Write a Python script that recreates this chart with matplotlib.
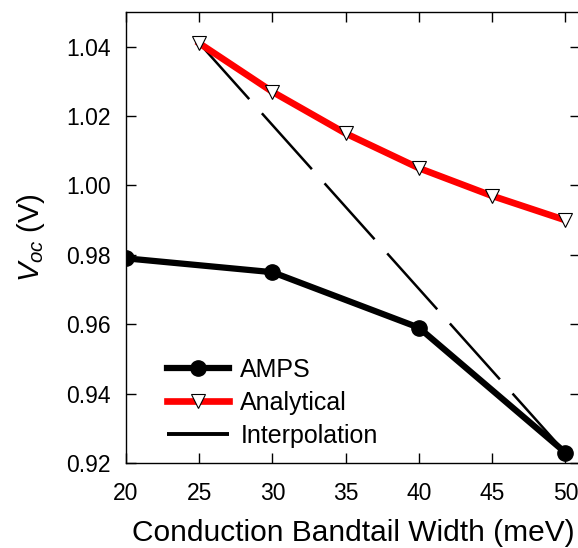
import numpy as np
import matplotlib
matplotlib.use("Agg")
import matplotlib.pyplot as plt

plt.rcParams['font.family'] = ['Liberation Sans', 'DejaVu Sans']
plt.rcParams['mathtext.fontset'] = 'custom'
plt.rcParams['mathtext.it'] = 'Liberation Sans:italic'
plt.rcParams['mathtext.rm'] = 'Liberation Sans'

# AMPS simulation
amps_w = [20, 30, 40, 50]
amps_voc = [0.979, 0.975, 0.959, 0.923]

# analytical model
ana_w = [25, 30, 35, 40, 45, 50]
ana_voc = [1.041, 1.027, 1.015, 1.005, 0.997, 0.990]

# interpolation line
int_w = [25, 50]
int_voc = [1.041, 0.923]

xticks = [20, 25, 30, 35, 40, 45, 50]
yticks = [0.92, 0.94, 0.96, 0.98, 1.00, 1.02, 1.04]

fig = plt.figure(figsize=(5.78, 5.48), dpi=100)
ax = fig.add_axes([126/578, 1-463/548, (580-126)/578, (463-12)/548])

ax.plot(int_w, int_voc, color='black', lw=1.8, dashes=(30, 7.6), label="Interpolation", zorder=2)
ax.plot(amps_w, amps_voc, color='black', lw=4.5, marker='o', ms=11, label="AMPS", zorder=3)
ax.plot(ana_w, ana_voc, color='#ff0000', lw=4.8, marker='v', ms=10.5, mfc='white', mec='black',
        mew=0.8, label="Analytical", zorder=4)

ax.set_xlim(20, 51)
ax.set_ylim(0.92, 1.05)
ax.set_xticks(xticks)
ax.set_yticks(yticks)
ax.set_yticklabels(["%.2f" % y for y in yticks])
ax.tick_params(direction='in', length=7, width=1, top=True, right=True, labelsize=16.5)
ax.tick_params(axis='y', pad=11)
ax.tick_params(axis='x', pad=14)
for s in ax.spines.values():
    s.set_linewidth(1)

ax.set_xlabel("Conduction Bandtail Width (meV)", fontsize=21.5, labelpad=10)
ax.set_ylabel("$V_{oc}$ (V)", fontsize=21, labelpad=14)

h, l = ax.get_legend_handles_labels()
order = [1, 2, 0]
leg = ax.legend([h[i] for i in order], [l[i] for i in order], loc='lower left',
                bbox_to_anchor=(0.04, -0.016), frameon=False, fontsize=18, handlelength=2.5,
                labelspacing=0.36, handletextpad=0.45)
leg.legend_handles[2].set_linewidth(2.8)

fig.savefig("out.png", dpi=100)
